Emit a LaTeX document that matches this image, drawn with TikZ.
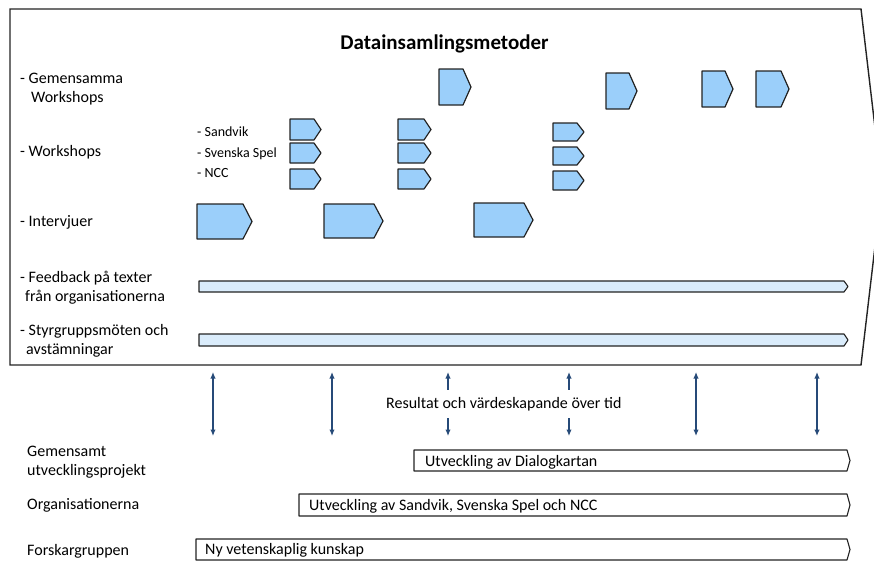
\documentclass[tikz,border=0pt]{standalone}
\usepackage{fontspec}
\setmainfont{Carlito}
\usetikzlibrary{arrows.meta}

\definecolor{chevfill}{RGB}{155,207,250}
\definecolor{barfill}{RGB}{218,236,251}
\definecolor{linegray}{RGB}{35,35,35}
\definecolor{arrowblue}{RGB}{38,74,120}

% chevron outline: left x, top y, right x, bottom y, tip length
\newcommand\chevpath[5]{(#1,#2) -- ({#3-#5},#2) -- (#3,{(#2+#4)/2}) -- ({#3-#5},#4) -- (#1,#4) -- cycle}

\tikzset{
  frame/.style={draw=linegray, line width=1.4pt, line join=miter},
  chev/.style={draw=linegray, fill=chevfill, line width=1.2pt, line join=round},
  lightbar/.style={draw=linegray, fill=barfill, line width=1.1pt, line join=round},
  resultbar/.style={draw=linegray, fill=white, line width=1.1pt, line join=round},
  lbl/.style={font=\fontsize{16}{19}\selectfont, align=left, inner sep=0pt, anchor=west},
  sublbl/.style={font=\fontsize{14}{17}\selectfont, inner sep=0pt, anchor=west},
  dbl/.style={draw=arrowblue, line width=1.2pt, {Latex[length=6.5pt,width=5.5pt]}-{Latex[length=6.5pt,width=5.5pt]}}
}

\begin{document}
\begin{tikzpicture}[x=1pt, y=-1pt]
\useasboundingbox (0,0) rectangle (874,562);
\clip (0,0) rectangle (874,562);

% outer chevron frame for the data collection methods
\draw[frame] (10,9) -- (861,9) -- (882,187) -- (861,365) -- (10,365) -- cycle;

\node[font=\bfseries\fontsize{21}{25}\selectfont, inner sep=0pt, anchor=base] (title) at (444.5,49) {Datainsamlingsmetoder};

% row labels
\node[lbl] (gw) at (20,89.5) {- Gemensamma\\\hspace*{11pt}Workshops};
\node[lbl] (ws) at (20,152.5) {- Workshops};
\node[lbl] (iv) at (20,222.5) {- Intervjuer};
\node[lbl] (fb) at (20,288) {- Feedback på texter\\\hspace*{5pt}från organisationerna};
\node[lbl] (sg) at (20,341) {- Styrgruppsmöten och\\\hspace*{6pt}avstämningar};

\node[sublbl] (sa) at (197,132) {- Sandvik};
\node[sublbl] (ss) at (197,153.5) {- Svenska Spel};
\node[sublbl] (nc) at (197,173.5) {- NCC};

% joint workshops
\draw[chev] \chevpath{439}{69}{471}{105}{8};
\draw[chev] \chevpath{606}{73}{637}{109}{8};
\draw[chev] \chevpath{702}{71}{733}{107}{8};
\draw[chev] \chevpath{756}{71}{789}{107}{8};

% workshops per organisation
\foreach \xa/\xb in {290/321, 398/431} {
  \draw[chev] \chevpath{\xa}{119}{\xb}{140}{7};
  \draw[chev] \chevpath{\xa}{143}{\xb}{163}{7};
  \draw[chev] \chevpath{\xa}{169}{\xb}{189}{7};
}
\draw[chev] \chevpath{553}{123}{584}{141}{7};
\draw[chev] \chevpath{553}{147}{584}{165}{7};
\draw[chev] \chevpath{553}{171}{584}{190}{7};

% interviews
\draw[chev] \chevpath{197}{204}{252}{239}{9};
\draw[chev] \chevpath{324}{204}{383}{238}{9};
\draw[chev] \chevpath{474}{203}{533}{237}{9};

% continuous activities
\draw[lightbar] \chevpath{199}{281}{848}{292}{4};
\draw[lightbar] \chevpath{199}{334}{848}{346}{4};

% results over time
\foreach \ax [count=\i] in {213,332,448,569,696,817} {
  \coordinate (up\i) at (\ax,372);
  \coordinate (dn\i) at (\ax,436);
  \draw[dbl] (up\i) -- (dn\i);
}
\node[font=\fontsize{16}{19}\selectfont, fill=white, inner xsep=2pt, inner ysep=7pt, anchor=west] (res) at (384,404) {Resultat och värdeskapande över tid};

% outcome rows
\node[lbl] (gu) at (27,462) {Gemensamt\\utvecklingsprojekt};
\node[lbl] (org) at (27,505.5) {Organisationerna};
\node[lbl] (fg) at (27,551.5) {Forskargruppen};

\draw[resultbar] \chevpath{414}{450}{850}{471}{3};
\draw[resultbar] \chevpath{299}{494}{850}{516}{3};
\draw[resultbar] \chevpath{196}{539}{850}{560}{3};

\node[lbl] (dk) at (425,462) {Utveckling av Dialogkartan};
\node[lbl] (uo) at (309,506) {Utveckling av Sandvik, Svenska Spel och NCC};
\node[lbl] (nv) at (205,550.5) {Ny vetenskaplig kunskap};
\end{tikzpicture}
\end{document}
